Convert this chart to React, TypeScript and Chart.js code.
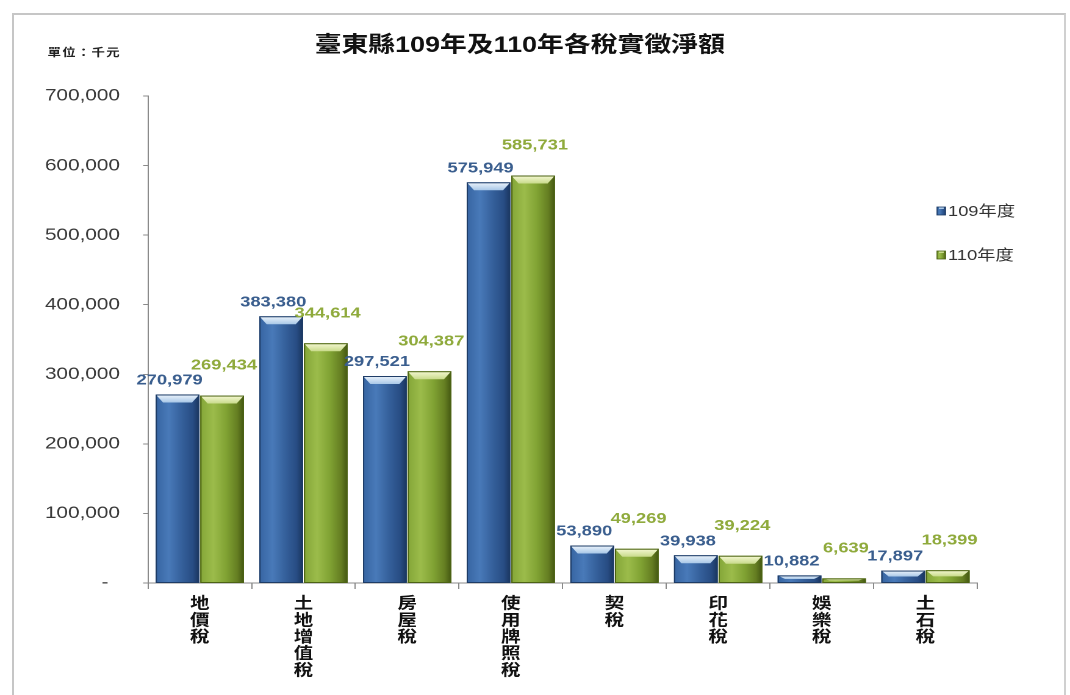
import React, { useEffect, useRef } from 'react';
import { Chart, registerables } from 'chart.js';

Chart.register(...registerables);

// ---- data ----
const titleText = '臺東縣109年及110年各稅實徵淨額';
const unitText = '單位：千元';
const categories = ['地價稅', '土地增值稅', '房屋稅', '使用牌照稅', '契稅', '印花稅', '娛樂稅', '土石稅'];
const seriesNames = ['109年度', '110年度'];
const values109 = [270979, 383380, 297521, 575949, 53890, 39938, 10882, 17897];
const values110 = [269434, 344614, 304387, 585731, 49269, 39224, 6639, 18399];
const yMin = 0;
const yMax = 700000;
const yStep = 100000;

// ---- layout / style ----
const W = 1070;
const H = 695;
const SX = 1.22; // horizontal stretch of the reference
const IW = Math.round(W / SX);
const FONT = '"Liberation Sans", Arial, "Noto Sans CJK TC", sans-serif';

const palettes = [
  {
    base: '#3A67A3',
    border: '#1E3C66',
    label: '#3A5E8E',
    body: [
      [0, '#3765A2'],
      [0.3, '#497AB9'],
      [0.6, '#35609B'],
      [0.85, '#284D84'],
      [1, '#1A355E'],
    ],
    cap: ['#EEF5FC', '#A9C8E8'],
  },
  {
    base: '#80A233',
    border: '#4C6314',
    label: '#8FAA3C',
    body: [
      [0, '#84A638'],
      [0.3, '#9CBC4B'],
      [0.6, '#80A233'],
      [0.85, '#657E22'],
      [1, '#435612'],
    ],
    cap: ['#F6F9D4', '#C9DB8C'],
  },
];

const barStyle = {
  id: 'barStyle',
  afterDatasetsDraw(chart: any) {
    const ctx = chart.ctx as CanvasRenderingContext2D;
    chart.data.datasets.forEach((_ds: any, di: number) => {
      const meta = chart.getDatasetMeta(di);
      const pal = palettes[di];
      meta.data.forEach((el: any) => {
        const { x, y, base, width } = el.getProps(['x', 'y', 'base', 'width'], true);
        const l = x - width / 2;
        const r = x + width / 2;
        const h = base - y;
        if (h <= 0) return;
        ctx.save();
        const g = ctx.createLinearGradient(l, 0, r, 0);
        pal.body.forEach(([o, c]: any) => g.addColorStop(o, c));
        ctx.fillStyle = g;
        ctx.fillRect(l, y, width, h);
        const bv = Math.min(8, h / 2);
        const bh = Math.min(6, width / 4);
        const cg = ctx.createLinearGradient(0, y, 0, y + bv);
        cg.addColorStop(0, pal.cap[0]);
        cg.addColorStop(1, pal.cap[1]);
        ctx.fillStyle = cg;
        ctx.beginPath();
        ctx.moveTo(l, y);
        ctx.lineTo(r, y);
        ctx.lineTo(r - bh, y + bv);
        ctx.lineTo(l + bh, y + bv);
        ctx.closePath();
        ctx.fill();
        ctx.strokeStyle = pal.border;
        ctx.lineWidth = 1;
        ctx.strokeRect(l + 0.5, y + 0.5, width - 1, h - 0.5);
        ctx.restore();
      });
    });
  },
};

const valueLabels = {
  id: 'valueLabels',
  afterDatasetsDraw(chart: any) {
    const ctx = chart.ctx as CanvasRenderingContext2D;
    const offsets = [
      { dx: -6.5, dy: 14 },
      { dx: 1.5, dy: 30 },
    ];
    chart.data.datasets.forEach((ds: any, di: number) => {
      const meta = chart.getDatasetMeta(di);
      ctx.save();
      ctx.font = `bold 15px ${FONT}`;
      ctx.fillStyle = palettes[di].label;
      ctx.textAlign = 'center';
      ctx.textBaseline = 'middle';
      meta.data.forEach((el: any, i: number) => {
        const v = ds.data[i];
        ctx.fillText(Number(v).toLocaleString('en-US'), el.x + offsets[di].dx, el.y - offsets[di].dy);
      });
      ctx.restore();
    });
  },
};

const extras = {
  id: 'extras',
  afterDraw(chart: any) {
    const ctx = chart.ctx as CanvasRenderingContext2D;
    ctx.save();
    // title
    ctx.font = `bold 22px ${FONT}`;
    ctx.fillStyle = '#111';
    ctx.textAlign = 'center';
    ctx.textBaseline = 'middle';
    ctx.fillText(titleText, 426, 46);
    // unit text
    ctx.font = `bold 11px ${FONT}`;
    (ctx as any).letterSpacing = '1px';
    ctx.fillStyle = '#222';
    ctx.textAlign = 'left';
    ctx.fillText(unitText, 39, 53);
    (ctx as any).letterSpacing = '0px';
    // legend
    const lx = 768;
    const ys = [211, 255];
    seriesNames.forEach((name, i) => {
      const pal = palettes[i];
      const g = ctx.createLinearGradient(lx, 0, lx + 7, 0);
      pal.body.forEach(([o, c]: any) => g.addColorStop(o, c));
      ctx.fillStyle = g;
      ctx.fillRect(lx, ys[i] - 4, 7, 8);
      ctx.fillStyle = pal.cap[1];
      ctx.fillRect(lx + 1.5, ys[i] - 4, 4, 2);
      ctx.strokeStyle = pal.border;
      ctx.lineWidth = 0.8;
      ctx.strokeRect(lx, ys[i] - 4, 7, 8);
      ctx.font = `15px ${FONT}`;
      ctx.fillStyle = '#333';
      ctx.fillText(name, lx + 9, ys[i] + 1);
    });
    ctx.restore();
  },
};

export default function App() {
  const ref = useRef<HTMLCanvasElement>(null);

  useEffect(() => {
    if (!ref.current) return;
    const chart = new Chart(ref.current, {
      type: 'bar',
      data: {
        labels: categories,
        datasets: [
          {
            label: seriesNames[0],
            data: values109,
            backgroundColor: palettes[0].base,
            borderColor: palettes[0].border,
            borderWidth: 0,
            categoryPercentage: 0.86,
            barPercentage: 0.98,
          },
          {
            label: seriesNames[1],
            data: values110,
            backgroundColor: palettes[1].base,
            borderColor: palettes[1].border,
            borderWidth: 0,
            categoryPercentage: 0.86,
            barPercentage: 0.98,
          },
        ],
      },
      options: {
        responsive: false,
        animation: false,
        devicePixelRatio: 2,
        layout: { padding: { left: 0, right: 76, top: 96, bottom: 0 } },
        font: { family: FONT },
        plugins: {
          legend: { display: false },
          tooltip: { enabled: false },
          title: { display: false },
        },
        scales: {
          x: {
            afterFit: (scale: any) => {
              scale.height = H - 583;
            },
            grid: {
              display: true,
              drawOnChartArea: false,
              drawTicks: true,
              tickLength: 6,
              color: '#8a8a8a',
              offset: true,
            },
            border: { color: '#8a8a8a', width: 1 },
            ticks: {
              autoSkip: false,
              maxRotation: 0,
              minRotation: 0,
              padding: 7,
              color: '#111',
              font: { family: FONT, size: 16, weight: 'bold', lineHeight: 1.04 },
              callback: (_v: any, i: number) => categories[i].split(''),
            },
          },
          y: {
            min: yMin,
            max: yMax,
            afterFit: (scale: any) => {
              scale.width = 121.3;
            },
            grid: {
              display: true,
              drawOnChartArea: false,
              drawTicks: true,
              tickLength: 4,
              color: '#8a8a8a',
            },
            border: { color: '#8a8a8a', width: 1 },
            ticks: {
              stepSize: yStep,
              padding: 19,
              color: '#3a3a3a',
              font: { family: FONT, size: 17 },
              callback: (v: any) => (Number(v) === 0 ? '-  ' : Number(v).toLocaleString('en-US')),
            },
          },
        },
      },
      plugins: [barStyle, valueLabels, extras],
    } as any);
    return () => chart.destroy();
  }, []);

  return (
    <div
      style={{
        position: 'absolute',
        left: 0,
        top: 0,
        width: W,
        height: H,
        overflow: 'hidden',
        background: '#fff',
      }}
    >
      <div
        style={{
          position: 'absolute',
          left: 12,
          top: 13,
          width: 1054,
          height: H + 20,
          borderTop: '2px solid #c6c6c6',
          borderLeft: '2px solid #c6c6c6',
          borderRight: '2px solid #d0d0d0',
          boxSizing: 'border-box',
        }}
      />
      <canvas
        ref={ref}
        width={IW}
        height={H}
        style={{ position: 'absolute', left: 0, top: 0, width: W, height: H }}
      />
    </div>
  );
}
